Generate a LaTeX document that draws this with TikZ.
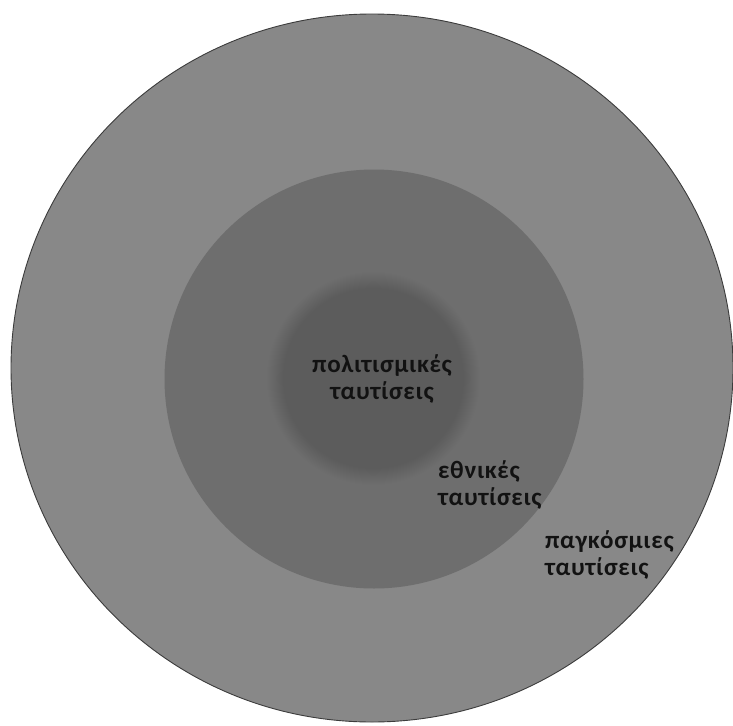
\documentclass[tikz,border=0pt]{standalone}
\usepackage{fontspec}
\setmainfont{Carlito}
\usepackage{tikz}
\usetikzlibrary{positioning, shapes.geometric}
\definecolor{outergray}{RGB}{136,136,136}
\definecolor{midgray}{RGB}{110,110,110}
\definecolor{innergray}{RGB}{92,92,92}
\definecolor{rimgray}{RGB}{60,60,60}
\definecolor{labelink}{RGB}{18,18,18}
\pgfdeclareradialshading{softcore}{\pgfpoint{0bp}{0bp}}{color(0bp)=(innergray); color(21bp)=(innergray); color(25bp)=(midgray); color(50bp)=(midgray)}
\tikzset{
  ring/.style={circle, inner sep=0pt, outer sep=0pt},
  label text/.style={text=labelink, font=\bfseries\fontsize{25}{27}\selectfont\addfontfeatures{LetterSpace=3}, inner sep=0pt}
}

\begin{document}
\begin{tikzpicture}[x=1pt, y=-1pt]
  \useasboundingbox (0,0) rectangle (733,725);
  % Circles (outer to inner)
  \node[ellipse, inner sep=0pt, fill=outergray, draw=rimgray, line width=0.9pt, minimum width=722pt, minimum height=708pt] (global) at (372,368) {};
  \node[ring, fill=midgray, minimum size=419pt] (national) at (374,379) {};
  \node[ring, shading=softcore, minimum size=214pt] (cultural) at (373,378) {};

  % Labels
  \node[label text, align=center] (culturaltxt) at (382,379) {πολιτισμικές\\ταυτίσεις};
  \node[label text, align=left, anchor=west] (nationaltxt) at (438,485) {εθνικές\\ταυτίσεις};
  \node[label text, align=left, anchor=west] (globaltxt) at (545,555) {παγκόσμιες\\ταυτίσεις};
\end{tikzpicture}
\end{document}
